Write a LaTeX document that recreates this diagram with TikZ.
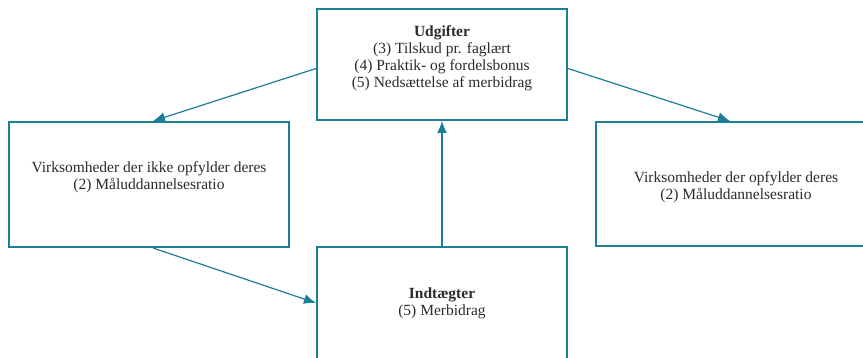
\documentclass[tikz,border=0pt]{standalone}
\usepackage{fontspec}
\setmainfont{Liberation Serif}
\usetikzlibrary{arrows.meta}

\definecolor{kasse}{HTML}{1B7F99}
\definecolor{tekst}{HTML}{2B2B2B}

\tikzset{
	boks/.style={draw=kasse, line width=2pt, fill=white, align=center, text=tekst,
		font=\fontsize{15.5}{17}\selectfont, inner sep=0pt},
	pil/.style={draw=kasse, line width=1.2pt, -{Latex[length=12pt,width=10pt]}}
}

\begin{document}
\begin{tikzpicture}[x=1pt,y=-1pt]
	%\draw[help lines] (0,0) grid[step=50] (863,358);
	\clip (0,0) rectangle (863,358);
	\fill[white] (0,0) rectangle (863,358);
	\node[boks, minimum width=250pt, minimum height=111pt, text depth=16pt] (udg) at (442,64.5)
		{\textbf{Udgifter}\\(3) Tilskud pr. faglært\\(4) Praktik- og fordelsbonus\\(5) Nedsættelse af merbidrag};
	\node[boks, minimum width=280pt, minimum height=125pt, text depth=18pt] (ikke) at (149,184.5)
		{Virksomheder der ikke opfylder deres\\(2) Måluddannelsesratio};
	\node[boks, minimum width=280pt, minimum height=124pt, text height=33.5pt] (opf) at (736,184)
		{Virksomheder der opfylder deres\\(2) Måluddannelsesratio};
	\node[boks, minimum width=250pt, minimum height=124pt, text depth=15pt] (ind) at (442,309)
		{\textbf{Indtægter}\\(5) Merbidrag};
	\draw[pil] ([yshift=-4pt]udg.west) -- ([xshift=4pt]ikke.north);
	\draw[pil] ([yshift=-4pt]udg.east) -- ([xshift=-6pt]opf.north);
	\draw[pil] ([xshift=4pt]ikke.south) -- ([yshift=6pt]ind.west);
	\draw[pil] (ind.north) -- (udg.south);
\end{tikzpicture}
\end{document}
